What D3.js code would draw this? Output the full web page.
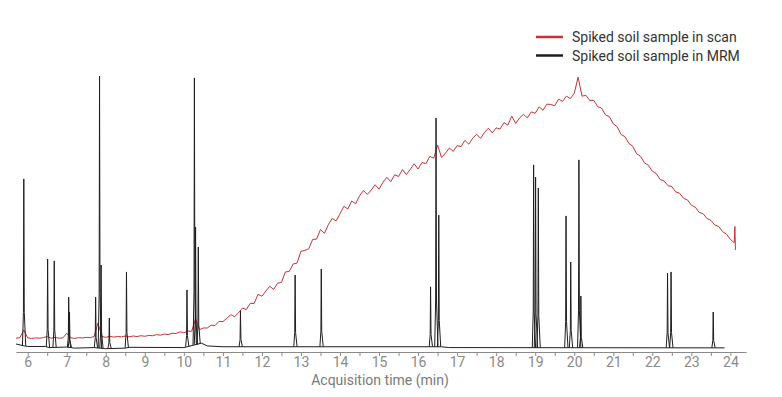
<!DOCTYPE html>
<html lang="en">
<head>
    <meta charset="UTF-8">
    <title>Spiked soil sample: scan vs MRM</title>
    <script src="https://d3js.org/d3.v7.min.js"></script>
    <style>
        body { margin: 0; background: #fff; }
        svg text { font-family: Roboto, "Open Sans", sans-serif; }
    </style>
</head>
<body>
<div id="chart"></div>
<script>
    // scan trace (relative intensity), one value every 0.1 min from 5.7 min
    let scanStart = 5.7;
    let scanStep = 0.1;
    let scanValues = [
        5.0, 5.2, 8.0,
        5.1, 4.9, 5.1, 5.0, 5.2, 5.6, 5.0, 5.3, 5.0, 5.1,
        6.8, 5.2, 4.9, 5.2, 5.1, 5.3, 5.2, 5.6, 10.5, 5.6,
        5.3, 5.7, 5.4, 5.6, 5.5, 5.8, 5.5, 5.8, 5.6, 5.9,
        5.7, 6.0, 5.9, 6.3, 6.1, 6.5, 6.3, 6.8, 6.7, 7.3,
        7.0, 7.6, 7.5, 12.0, 8.1, 8.7, 8.7, 9.7, 9.6, 11.1,
        11.0, 12.2, 13.5, 12.8, 14.2, 15.9, 15.4, 17.6, 17.6, 20.9,
        20.2, 22.1, 23.8, 22.7, 24.9, 25.2, 29.0, 29.2, 31.9, 32.2,
        36.5, 36.8, 37.4, 40.8, 40.9, 44.4, 43.0, 46.1, 48.4, 47.5,
        50.1, 52.8, 51.8, 54.7, 53.7, 56.6, 58.5, 57.1, 58.7, 60.6,
        59.0, 61.5, 63.3, 61.7, 64.2, 63.6, 66.1, 64.3, 66.2, 68.2,
        66.3, 68.7, 68.2, 70.9, 70.2, 75.0, 70.5, 72.0, 73.9, 72.7,
        74.8, 74.4, 76.7, 75.3, 77.5, 78.9, 77.4, 79.5, 81.1, 79.4,
        81.2, 80.8, 83.1, 82.2, 85.5, 82.8, 84.8, 86.1, 84.8, 87.0,
        86.5, 88.8, 87.6, 89.8, 89.7, 89.2, 91.6, 90.8, 92.7, 91.8,
        93.7, 99.6, 92.7, 93.0, 91.1, 91.2, 88.9, 88.4, 85.9, 85.3,
        82.7, 81.6, 78.8, 78.0, 75.6, 74.5, 71.8, 70.9, 68.5, 67.7,
        65.5, 64.7, 62.5, 62.0, 60.3, 59.9, 58.0, 57.5, 55.7, 55.1,
        53.2, 52.5, 50.6, 50.1, 48.4, 47.7, 46.0, 45.5, 43.6, 42.7,
        40.8, 39.6
    ];
    let scanTail = [[24.115, 45.5], [24.13, 37.0]];

    // MRM trace: baseline points and peaks [time, apex]
    let mrmBaseline = [
        [5.7, 2.9], [5.88, 2.3], [6.0, 2.0], [6.45, 2.0], [6.55, 1.6], [7.0, 1.8],
        [7.2, 1.4], [7.7, 1.6], [8.0, 1.2], [8.5, 1.4], [8.6, 1.7], [10.0, 1.6],
        [10.45, 3.2], [10.6, 2.2], [11.0, 1.9], [16.6, 1.9], [16.8, 1.6], [23.85, 1.5]
    ];
    let mrmPeaks = [
        [5.90, 62.7], [6.51, 33.7], [6.68, 33.0], [7.05, 19.9], [7.07, 14.5],
        [7.74, 19.9], [7.84, 100.0], [7.88, 31.5], [8.09, 12.3], [8.53, 29.0],
        [10.08, 22.5], [10.27, 99.3], [10.30, 45.3], [10.37, 38.0], [11.45, 14.9],
        [12.85, 27.9], [13.52, 30.1], [16.32, 23.6], [16.46, 84.8], [16.53, 49.6],
        [18.96, 67.8], [19.01, 63.4], [19.08, 59.4], [19.79, 49.3], [19.91, 32.6],
        [20.12, 69.6], [20.17, 20.3], [22.39, 28.6], [22.48, 29.0], [23.56, 14.5]
    ];

    let xTicks = [6, 7, 8, 9, 10, 11, 12, 13, 14, 15, 16, 17, 18, 19, 20, 21, 22, 23, 24];
    let legendItems = [
        {label: 'Spiked soil sample in scan', color: '#c3343a'},
        {label: 'Spiked soil sample in MRM', color: '#1e1e1e'}
    ];

    let width = 782, height = 397;

    let svg = d3.select('#chart')
        .append('svg')
        .attr('width', width)
        .attr('height', height);

    let x = d3.scaleLinear().domain([5.7, 24.4]).range([16, 746]);
    let y = d3.scaleLinear().domain([0, 100]).range([352, 76]);

    // scan data as points
    let scan = scanValues.map(function (v, i) {
        return [scanStart + i * scanStep, v];
    }).concat(scanTail);

    let line = d3.line()
        .x(function (d) { return x(d[0]); })
        .y(function (d) { return y(d[1]); });

    svg.append('path')
        .datum(scan)
        .attr('fill', 'none')
        .attr('stroke', '#c3343a')
        .attr('stroke-width', 1)
        .attr('stroke-linejoin', 'round')
        .attr('d', line);

    // MRM baseline
    let base = d3.scaleLinear()
        .domain(mrmBaseline.map(function (d) { return d[0]; }))
        .range(mrmBaseline.map(function (d) { return d[1]; }));

    svg.append('path')
        .datum(mrmBaseline)
        .attr('fill', 'none')
        .attr('stroke', '#1e1e1e')
        .attr('stroke-width', 1)
        .attr('d', line);

    // MRM peaks, thin spikes standing on the baseline
    svg.append('g')
        .selectAll('path')
        .data(mrmPeaks)
        .enter()
        .append('path')
        .attr('fill', 'none')
        .attr('stroke', '#1e1e1e')
        .attr('stroke-width', 1)
        .attr('d', function (d) {
            let t = d[0], b = base(t), h = d[1];
            return line([
                [t - 0.035, b],
                [t - 0.01, b + (h - b) * 0.2],
                [t, h],
                [t + 0.012, b + (h - b) * 0.2],
                [t + 0.05, b]
            ]);
        });

    // x axis
    let halfTicks = d3.range(6, 24.01, 0.5);
    let xAxis = svg.append('g')
        .attr('transform', 'translate(0,352)')
        .call(d3.axisBottom(x)
            .tickValues(halfTicks)
            .tickSizeInner(4)
            .tickSizeOuter(0)
            .tickPadding(1)
            .tickFormat(function (d) { return xTicks.includes(d) ? d : ''; }));
    xAxis.select('.domain').attr('stroke', '#8a8a8a').attr('stroke-width', 1.2);
    xAxis.selectAll('.tick line').attr('stroke', '#8a8a8a');
    xAxis.selectAll('.tick text')
        .attr('fill', '#8a8a8a')
        .style('font-size', '14px');

    svg.append('text')
        .attr('x', 380)
        .attr('y', 385)
        .attr('text-anchor', 'middle')
        .attr('fill', '#7a7a7a')
        .style('font-size', '14px')
        .text('Acquisition time (min)');

    // legend
    let legend = svg.append('g')
        .selectAll('g')
        .data(legendItems)
        .enter()
        .append('g')
        .attr('transform', function (d, i) {
            return 'translate(536,' + (37 + i * 18.5) + ')';
        });
    legend.append('line')
        .attr('x1', 0).attr('x2', 27)
        .attr('stroke', function (d) { return d.color; })
        .attr('stroke-width', 2.5);
    legend.append('text')
        .attr('x', 36)
        .attr('y', 5)
        .attr('fill', '#333')
        .style('font-size', '14px')
        .text(function (d) { return d.label; });
</script>
</body>
</html>
